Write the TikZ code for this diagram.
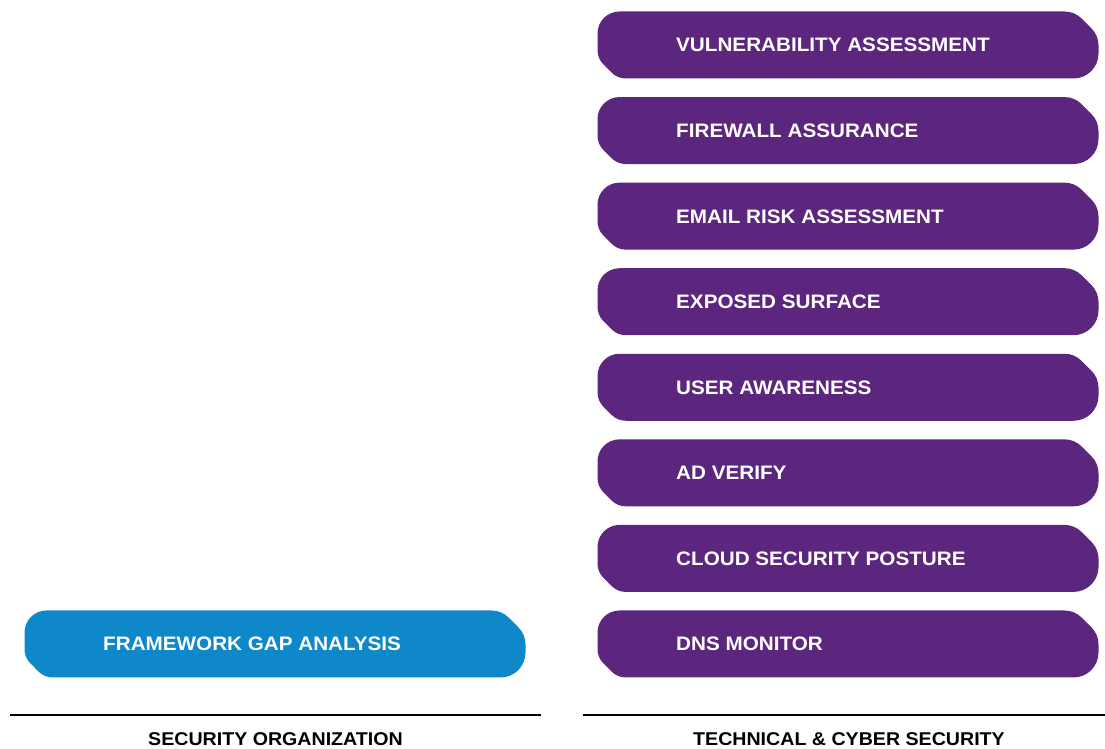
\documentclass[tikz,border=0pt]{standalone}
\usepackage{fontspec}
\setmainfont{Liberation Sans}[FakeStretch=1.06]
\definecolor{techpurple}{HTML}{5C267E}
\definecolor{orgblue}{HTML}{0E88C9}
\tikzstyle{every node}=[anchor=west,inner sep=0pt,text height=14pt,text depth=0pt,font=\fontsize{19.5}{20}\selectfont\bfseries]
\tikzstyle{boxtext}=[text=white]
\tikzstyle{heading}=[anchor=center,text=black,text height=13pt,font=\fontsize{18.5}{19}\selectfont\bfseries]
\tikzstyle{rule}=[line width=2pt,black]
% box with round top-left / bottom-right and soft cut corners
\newcommand{\servicebox}[3]{%
  \fill[#3] (#1,#2-38.72) -- (#1,#2-22) arc[start angle=180,end angle=90,radius=22pt]
    -- (#1+467.06,#2) arc[start angle=90,end angle=45,radius=24pt]
    -- (#1+493.97,#2-16.97) arc[start angle=45,end angle=0,radius=24pt]
    -- (#1+501,#2-42) arc[start angle=0,end angle=-90,radius=25pt]
    -- (#1+28.28,#2-67) arc[start angle=-90,end angle=-135,radius=20pt]
    -- (#1+5.86,#2-52.86) arc[start angle=-135,end angle=-180,radius=20pt]
    -- cycle;}

\begin{document}
\begin{tikzpicture}[x=1pt,y=1pt]
    \useasboundingbox (0,0) rectangle (1105,749);
    % technical column
    \foreach \lbl [count=\i from 0] in {VULNERABILITY ASSESSMENT,FIREWALL ASSURANCE,
        EMAIL RISK ASSESSMENT,EXPOSED SURFACE,USER AWARENESS,AD VERIFY,
        CLOUD SECURITY POSTURE,DNS MONITOR}{
        \pgfmathsetmacro\top{737.5-85.57*\i}
        \servicebox{597.5}{\top}{techpurple}
        \node[boxtext] (tech\i) at (676,\top-33.5) {\lbl};
    }
    % organization column
    \servicebox{24.5}{138.5}{orgblue}
    \node[boxtext] (framework) at (103,105) {FRAMEWORK GAP ANALYSIS};
    % column rules and titles
    \coordinate (orgL) at (10,34);
    \coordinate (orgR) at (541,34);
    \coordinate (techL) at (583,34);
    \coordinate (techR) at (1105,34);
    \draw[rule] (orgL) -- (orgR);
    \draw[rule] (techL) -- (techR);
    \node[heading] (orgtitle) at (275.5,10) {SECURITY ORGANIZATION};
    \node[heading] (techtitle) at (849,10) {TECHNICAL \& CYBER SECURITY};
\end{tikzpicture}
\end{document}
